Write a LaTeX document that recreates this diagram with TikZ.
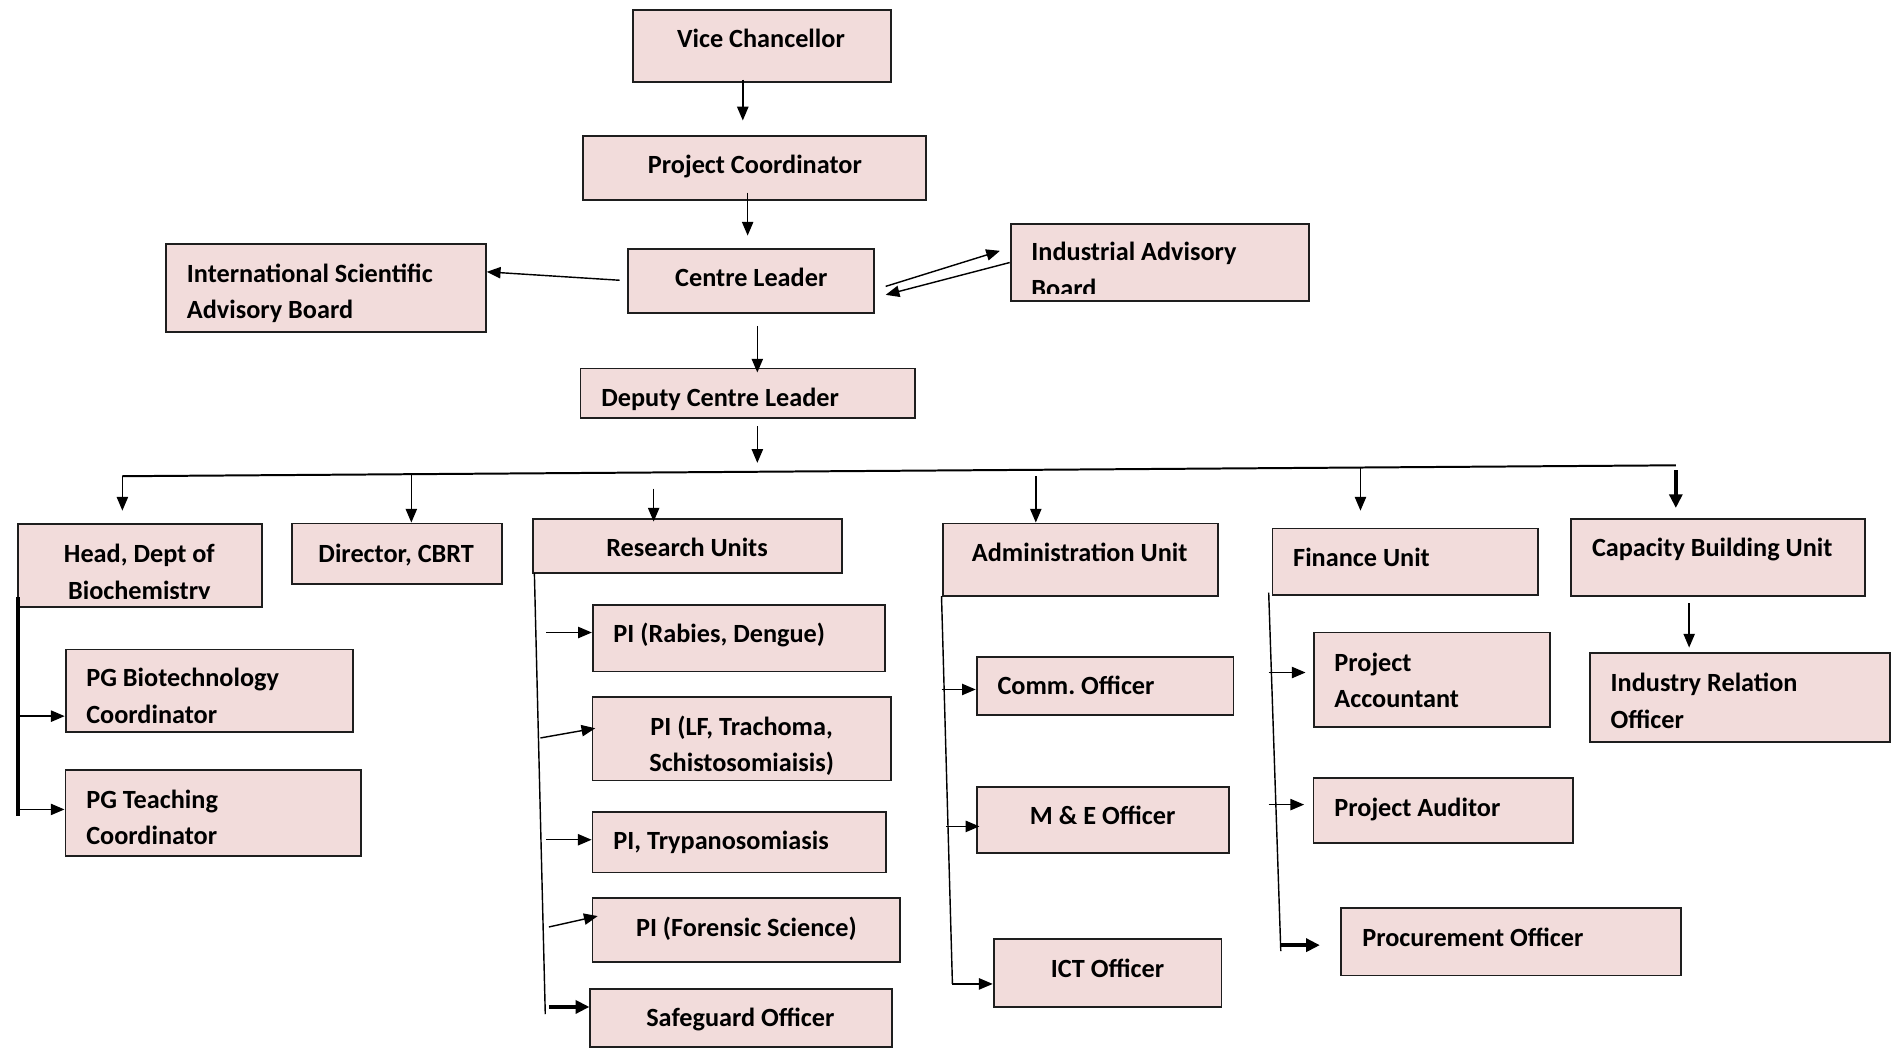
\documentclass[tikz,border=0pt]{standalone}
\usepackage{fontspec}
\setmainfont{Carlito}
\usetikzlibrary{arrows.meta, calc}
\definecolor{boxfill}{RGB}{242, 220, 219}
\definecolor{boxline}{RGB}{ 30,  30,  30}
\tikzset{
	orgbox/.style={
		rectangle, inner sep=0pt,
		draw=boxline, line width=1.3pt, fill=boxfill
	},
	boxtext/.style={
		inner sep=0pt, align=left,
		font=\fontsize{18.5}{25.6}\selectfont\bfseries
	},
	arrow/.style={
		-{Triangle[length=0.34cm, width=0.28cm]}, line width=1pt, color=black
	},
	heavyarrow/.style={
		-{Triangle[length=0.34cm, width=0.32cm]}, line width=2.6pt, color=black
	},
	spine/.style={line width=1pt, color=black},
	heavyspine/.style={line width=2.6pt, color=black},
	busline/.style={line width=1.4pt, color=black}
}

\begin{document}
\begin{tikzpicture}
	\useasboundingbox (0,0) rectangle (47.04,-25.95);
	
	%% ═══════════════════════════════
	%%  TOP CHAIN
	%% ═══════════════════════════════
	\node[orgbox, minimum width=6.39cm, minimum height=1.80cm] (vc)   at (18.86,-1.14) {};
	\node[boxtext, anchor=mid] (vc-t) at (18.84,-1.10) {Vice Chancellor};
	
	\node[orgbox, minimum width=8.49cm, minimum height=1.59cm] (pc)   at (18.68,-4.16) {};
	\node[boxtext, anchor=mid] (pc-t) at (18.69,-4.22) {Project Coordinator};
	
	\node[orgbox, minimum width=6.09cm, minimum height=1.59cm] (cl)   at (18.59,-6.95) {};
	\node[boxtext, anchor=mid] (cl-t) at (18.60,-7.01) {Centre Leader};
	
	\node[orgbox, minimum width=7.92cm, minimum height=2.19cm] (isab) at (8.07,-7.13)  {};
	\node[boxtext, anchor=west] (isab-t) at (4.62,-7.27) {International Scientific\\Advisory Board};
	
	\node[orgbox, minimum width=7.38cm, minimum height=1.89cm] (iab)  at (28.71,-6.50) {};
	\begin{scope}
		\clip ([yshift=0.2cm]iab.south west) rectangle (iab.north east);
		\node[boxtext, anchor=west] (iab-t) at (25.53,-6.68) {Industrial Advisory\\Board};
	\end{scope}
	
	\node[orgbox, minimum width=8.28cm, minimum height=1.23cm] (dcl)  at (18.51,-9.74) {};
	\node[boxtext, anchor=mid west] (dcl-t) at (14.88,-9.98) {Deputy Centre Leader};
	
	%% ═══════════════════════════════
	%%  UNITS ROW
	%% ═══════════════════════════════
	\node[orgbox, minimum width=6.03cm, minimum height=2.07cm] (head) at (3.47,-14.00)  {};
	\begin{scope}
		\clip ([yshift=0.24cm]head.south west) rectangle (head.north east);
		\node[boxtext, align=center] (head-t) at (3.45,-14.21) {Head, Dept of\\Biochemistry};
	\end{scope}
	
	\node[orgbox, minimum width=5.19cm, minimum height=1.50cm] (dir)  at (9.83,-13.71)  {};
	\node[boxtext, anchor=mid] (dir-t) at (9.81,-13.85) {Director, CBRT};
	
	\node[orgbox, minimum width=7.65cm, minimum height=1.35cm] (ru)   at (17.03,-13.52) {};
	\node[boxtext, anchor=mid] (ru-t) at (17.01,-13.70) {Research Units};
	
	\node[orgbox, minimum width=6.81cm, minimum height=1.80cm] (au)   at (26.75,-13.86) {};
	\node[boxtext, anchor=mid] (au-t) at (26.73,-13.82) {Administration Unit};
	
	\node[orgbox, minimum width=6.57cm, minimum height=1.65cm] (fu)   at (34.79,-13.91) {};
	\node[boxtext, anchor=mid west] (fu-t) at (32.01,-13.94) {Finance Unit};
	
	\node[orgbox, minimum width=7.29cm, minimum height=1.92cm] (cbu)  at (42.53,-13.80) {};
	\node[boxtext, anchor=mid] (cbu-t) at (42.39,-13.70) {Capacity Building Unit};
	
	%% ═══════════════════════════════
	%%  SUB UNITS
	%% ═══════════════════════════════
	% Head, Dept of Biochemistry
	\node[orgbox, minimum width=7.11cm, minimum height=2.04cm] (pgb) at (5.18,-17.10) {};
	\node[boxtext, anchor=west] (pgb-t) at (2.13,-17.23) {PG Biotechnology\\Coordinator};
	\node[orgbox, minimum width=7.32cm, minimum height=2.13cm] (pgt) at (5.28,-20.12) {};
	\node[boxtext, anchor=west] (pgt-t) at (2.13,-20.23) {PG Teaching\\Coordinator};
	
	% Research Units
	\node[orgbox, minimum width=7.23cm, minimum height=1.65cm] (pi1) at (18.29,-15.80) {};
	\node[boxtext, anchor=mid west] (pi1-t) at (15.18,-15.83) {PI (Rabies, Dengue)};
	\node[orgbox, minimum width=7.38cm, minimum height=2.07cm] (pi2) at (18.36,-18.29) {};
	\node[boxtext, align=center] (pi2-t) at (18.36,-18.47) {PI (LF, Trachoma,\\Schistosomiaisis)};
	\node[orgbox, minimum width=7.26cm, minimum height=1.50cm] (pi3) at (18.30,-20.85) {};
	\node[boxtext, anchor=mid west] (pi3-t) at (15.18,-20.96) {PI, Trypanosomiasis};
	\node[orgbox, minimum width=7.62cm, minimum height=1.59cm] (pi4) at (18.48,-23.03) {};
	\node[boxtext, anchor=mid] (pi4-t) at (18.48,-23.09) {PI (Forensic Science)};
	\node[orgbox, minimum width=7.47cm, minimum height=1.44cm] (so)  at (18.35,-25.20) {};
	\node[boxtext, anchor=mid] (so-t) at (18.33,-25.34) {Safeguard Officer};
	
	% Administration Unit
	\node[orgbox, minimum width=6.36cm, minimum height=1.44cm] (co)  at (27.36,-16.98) {};
	\node[boxtext, anchor=mid west] (co-t) at (24.69,-17.12) {Comm.\ Officer};
	\node[orgbox, minimum width=6.24cm, minimum height=1.65cm] (me)  at (27.30,-20.30) {};
	\node[boxtext, anchor=mid] (me-t) at (27.30,-20.33) {M \& E Officer};
	\node[orgbox, minimum width=5.64cm, minimum height=1.68cm] (ict) at (27.42,-24.09) {};
	\node[boxtext, anchor=mid] (ict-t) at (27.42,-24.11) {ICT Officer};
	
	% Finance Unit
	\node[orgbox, minimum width=5.85cm, minimum height=2.34cm] (pa)  at (35.45,-16.83) {};
	\node[boxtext, anchor=west] (pa-t) at (33.03,-16.84) {Project\\Accountant};
	\node[orgbox, minimum width=6.42cm, minimum height=1.62cm] (pau) at (35.73,-20.07) {};
	\node[boxtext, anchor=mid west] (pau-t) at (33.03,-20.12) {Project Auditor};
	\node[orgbox, minimum width=8.40cm, minimum height=1.68cm] (po)  at (37.41,-23.31) {};
	\node[boxtext, anchor=mid west] (po-t) at (33.72,-23.36) {Procurement Officer};
	
	% Capacity Building Unit
	\node[orgbox, minimum width=7.44cm, minimum height=2.19cm] (iro) at (43.08,-17.27) {};
	\node[boxtext, anchor=west] (iro-t) at (39.87,-17.35) {Industry Relation\\Officer};
	
	%% ═══════════════════════════════
	%%  ARROWS
	%% ═══════════════════════════════
	
	% Top chain
	\draw[arrow, shorten <=-0.09cm, shorten >=0.36cm] ([xshift=-0.47cm]vc.south) -- ([xshift=-0.47cm]vc.south |- pc.north);
	\draw[arrow, shorten <=-0.21cm, shorten >=0.30cm] ([xshift=-0.17cm]pc.south) -- ([xshift=-0.17cm]pc.south |- cl.north);
	\draw[arrow, shorten <=0.30cm, shorten >=-0.12cm] ([xshift=0.16cm]cl.south) -- ([xshift=0.16cm]cl.south |- dcl.north);
	
	% Centre Leader <-> advisory boards
	\draw[arrow, shorten <=0.18cm] (cl.west) -- ([yshift=0.4cm]isab.east);
	\draw[arrow] ([shift={(0.27cm,-0.14cm)}]cl.east) -- ([shift={(-0.24cm,0.29cm)}]iab.west);
	\draw[arrow] (iab.west) -- ([shift={(0.27cm,-0.35cm)}]cl.east);
	
	% Bus line
	\coordinate (busL) at (3.03,-11.79);
	\coordinate (busR) at (41.49,-11.52);
	\draw[busline] (busL) -- (busR);
	\path (busL) -- (busR)
		coordinate[pos=0.409] (b0) coordinate[pos=0.186] (b2)
		coordinate[pos=0.342] (b3) coordinate[pos=0.588] (b4)
		coordinate[pos=0.797] (b5);
	\draw[arrow, shorten <=0.18cm, shorten >=0.22cm] ([xshift=0.24cm]dcl.south) -- ([xshift=0.24cm]dcl.south |- b0);
	
	% Bus -> units
	\draw[arrow, shorten >=0.30cm] (busL) -- (busL |- head.north);
	\draw[arrow] (b2) -- (b2 |- dir.north);
	\draw[arrow, shorten <=0.40cm, shorten >=-0.09cm] (b3) -- (b3 |- ru.north);
	\draw[arrow, shorten <=0.16cm] (b4) -- (b4 |- au.north);
	\draw[arrow, shorten >=0.42cm] (b5) -- (b5 |- fu.north);
	\draw[heavyarrow, shorten <=0.12cm, shorten >=0.24cm] (busR) -- (busR |- cbu.north);
	
	% Head spine
	\coordinate (hsTop) at (0.45,-14.79);
	\coordinate (hsBot) at (0.45,-20.19);
	\coordinate (ha1)   at (0.45,-17.73);
	\coordinate (ha2)   at (0.45,-20.04);
	\draw[heavyspine] (hsTop) -- (hsBot);
	\draw[arrow] (ha1) -- (ha1 -| pgb.west);
	\draw[arrow] (ha2) -- (ha2 -| pgt.west);
	
	% Research spine
	\coordinate (rsTop) at (13.23,-14.19);
	\coordinate (rsBot) at (13.50,-25.11);
	\coordinate (ra1)   at (13.53,-15.66);
	\coordinate (ra2)   at (13.38,-18.27);
	\coordinate (ra3)   at (13.53,-20.79);
	\coordinate (ra4)   at (13.59,-22.95);
	\coordinate (ra5)   at (13.59,-24.93);
	\draw[spine] (rsTop) -- (rsBot);
	\draw[arrow] (ra1) -- (ra1 -| pi1.west);
	\draw[arrow] (ra2) -- ([shift={(0.09cm,0.26cm)}]pi2.west);
	\draw[arrow] (ra3) -- (ra3 -| pi3.west);
	\draw[arrow] (ra4) -- ([shift={(0.15cm,0.35cm)}]pi4.west);
	\draw[heavyarrow] (ra5) -- (ra5 -| so.west);
	
	% Administration spine
	\coordinate (asTop) at (23.31,-14.76);
	\coordinate (asBot) at (23.58,-24.36);
	\coordinate (aa1)   at (23.31,-17.07);
	\coordinate (aa2)   at (23.43,-20.46);
	\draw[spine] (asTop) -- (asBot);
	\draw[arrow] (aa1) -- (aa1 -| co.west);
	\draw[arrow, shorten >=-0.09cm] (aa2) -- (aa2 -| me.west);
	\draw[arrow] (asBot) -- (asBot -| ict.west);
	
	% Finance spine
	\coordinate (fsTop) at (31.41,-14.67);
	\coordinate (fsBot) at (31.71,-23.55);
	\coordinate (fa1)   at (31.41,-16.65);
	\coordinate (fa2)   at (31.41,-19.92);
	\coordinate (fa3)   at (31.71,-23.40);
	\draw[spine] (fsTop) -- (fsBot);
	\draw[arrow, shorten >=0.18cm] (fa1) -- (fa1 -| pa.west);
	\draw[arrow, shorten >=0.21cm] (fa2) -- (fa2 -| pau.west);
	\draw[heavyarrow, shorten >=0.51cm] (fa3) -- (fa3 -| po.west);
	
	% Capacity Building -> Industry Relation
	\draw[arrow, shorten <=0.15cm, shorten >=0.12cm] ([xshift=-0.71cm]cbu.south) -- ([xshift=-0.71cm]cbu.south |- iro.north);
\end{tikzpicture}
\end{document}
